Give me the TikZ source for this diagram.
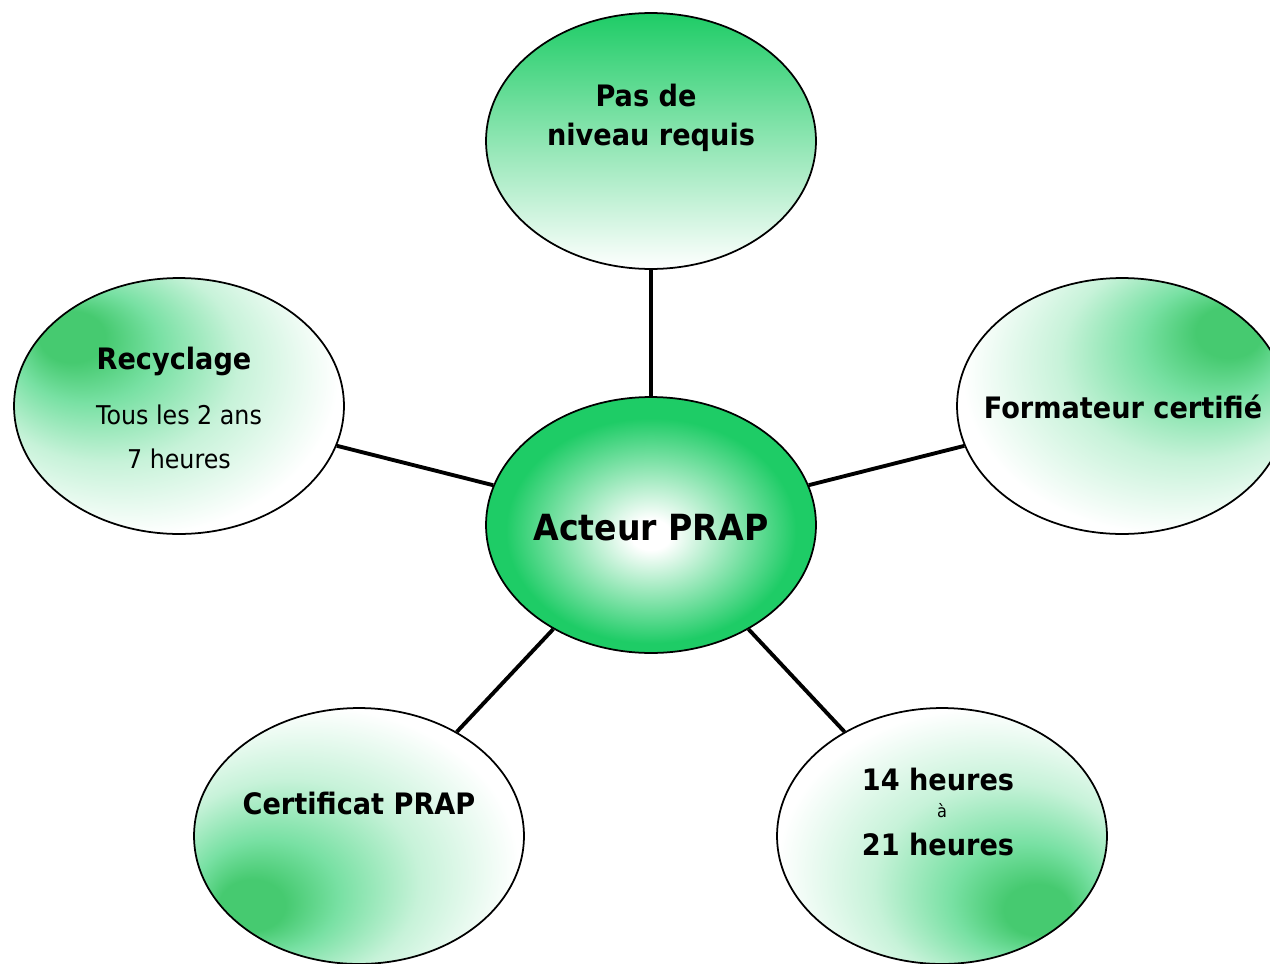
\documentclass[tikz,border=0pt]{standalone}
\usepackage{fontspec}
\setmainfont{DejaVu Sans}[FakeStretch=0.92]
\usepackage{xcolor}
\usepackage{tikz}
\usetikzlibrary{shapes.geometric}

\definecolor{prapgreen}{RGB}{30,204,102}
\definecolor{prapspot}{RGB}{70,202,112}
\colorlet{prapmid}{prapgreen!60!white}
\colorlet{praplight}{prapgreen!25!white}
\pgfdeclareradialshading{hubshade}{\pgfpoint{0bp}{-2bp}}{color(0bp)=(white); color(3bp)=(white); color(22bp)=(prapgreen); color(50bp)=(prapgreen)}
\pgfdeclareradialshading{cornerTL}{\pgfpoint{-18bp}{15bp}}{color(0bp)=(prapspot); color(5bp)=(prapspot); color(11bp)=(prapmid); color(20bp)=(praplight); color(31bp)=(white); color(50bp)=(white)}
\pgfdeclareradialshading{cornerTR}{\pgfpoint{18bp}{16bp}}{color(0bp)=(prapspot); color(5bp)=(prapspot); color(11bp)=(prapmid); color(20bp)=(praplight); color(31bp)=(white); color(50bp)=(white)}
\pgfdeclareradialshading{cornerBL}{\pgfpoint{-18bp}{-15bp}}{color(0bp)=(prapspot); color(5bp)=(prapspot); color(11bp)=(prapmid); color(20bp)=(praplight); color(31bp)=(white); color(50bp)=(white)}
\pgfdeclareradialshading{cornerBR}{\pgfpoint{16bp}{-16bp}}{color(0bp)=(prapspot); color(5bp)=(prapspot); color(11bp)=(prapmid); color(20bp)=(praplight); color(31bp)=(white); color(50bp)=(white)}

\begin{document}
\begin{tikzpicture}[x=0.02cm, y=-0.02cm,
  bubble/.style={ellipse, draw=black, line width=1pt, minimum width=6.6cm, minimum height=5.12cm, inner sep=0pt},
  link/.style={line width=2.2pt},
  txtbig/.style={font=\fontsize{20.5}{25}\selectfont\bfseries, anchor=base},
  txtbold/.style={font=\fontsize{16.8}{19}\selectfont\bfseries, anchor=base},
  txtplain/.style={font=\fontsize{14.7}{18}\selectfont, anchor=base},
  txtsmall/.style={font=\fontsize{10}{12}\selectfont, anchor=base}]
\useasboundingbox (0,0) rectangle (1270,963);
\clip (0,0) rectangle (1270,963);
% bubbles
\node[bubble, shade, shading=hubshade] (hub) at (651,525) {};
\node[bubble, top color=prapgreen, bottom color=white] (req) at (651,141) {};
\node[bubble, shade, shading=cornerTL] (recy) at (179,406) {};
\node[bubble, shade, shading=cornerTR] (form) at (1122,406) {};
\node[bubble, shade, shading=cornerBL] (cert) at (359,836) {};
\node[bubble, shade, shading=cornerBR] (hrs) at (942,836) {};
% spokes
\draw[link] (hub) -- (req);
\draw[link] (hub) -- (recy);
\draw[link] (hub) -- (form);
\draw[link] (hub) -- (cert);
\draw[link] (hub) -- (hrs);
% texts
\node[txtbig] (hubtxt) at (651,540) {Acteur PRAP};
\node[txtbold] (reqa) at (646,107) {Pas de};
\node[txtbold] (reqb) at (651,145) {niveau requis};
\node[txtbold] (recya) at (174,369) {Recyclage};
\node[txtplain] (recyb) at (179,424) {Tous les 2 ans};
\node[txtplain] (recyc) at (179,468) {7 heures};
\node[txtbold] (formtxt) at (1123,418) {Formateur certifié};
\node[txtbold] (certtxt) at (359,814) {Certificat PRAP};
\node[txtbold] (hrsa) at (938,790) {14 heures};
\node[txtsmall] (hrsb) at (942,817) {à};
\node[txtbold] (hrsc) at (938,855) {21 heures};
\end{tikzpicture}
\end{document}
